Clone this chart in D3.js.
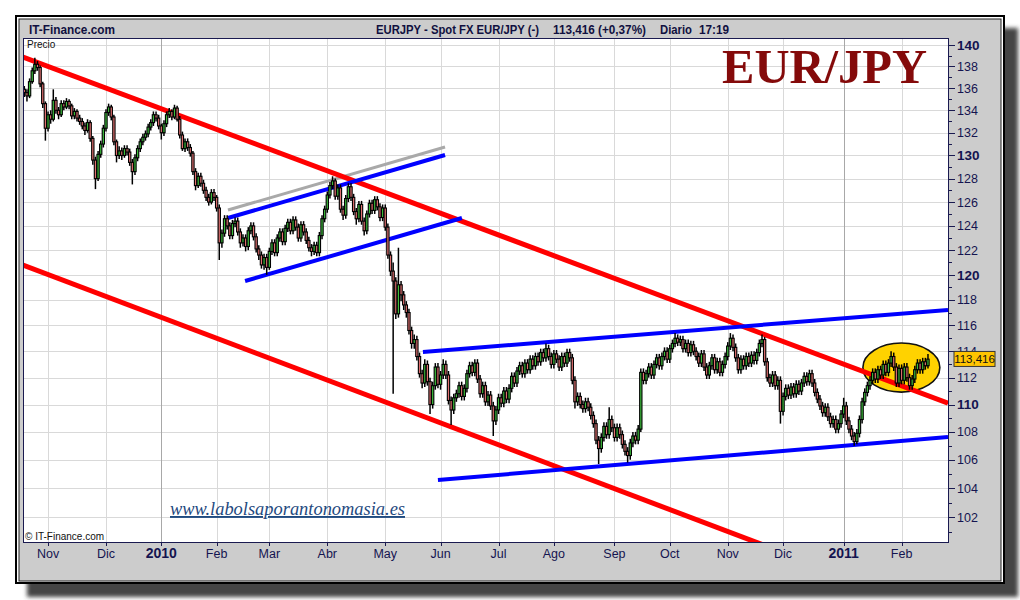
<!DOCTYPE html>
<html><head><meta charset="utf-8">
<script src="https://cdn.jsdelivr.net/npm/d3@7"></script>
<style>body{margin:0;background:#fff}svg{display:block}</style>
</head><body>
<svg id="c" width="1020" height="600"></svg>
<script>
// ---- Data (daily EUR/JPY candles, index = trading day from 20 Oct 2009) ----
const opens=[135.9,135.6,135.3,136.6,137.6,138.2,137.9,136.4,134.6,132.4,
133.6,133.2,134.9,134.0,133.6,134.6,134.3,134.8,134.4,133.5,
133.9,133.3,133.0,132.6,132.2,132.9,131.5,129.6,128.0,130.1,
131.0,132.4,133.8,134.3,133.4,131.2,130.0,130.4,130.0,130.6,
130.3,129.4,128.6,129.8,130.6,131.2,131.6,131.9,132.5,132.9,
133.6,133.3,132.6,132.0,132.8,133.6,133.9,133.4,134.2,133.2,
131.8,130.6,131.2,130.7,130.2,128.6,127.4,128.2,127.6,127.0,
126.4,126.0,126.8,126.4,125.5,122.6,123.4,124.6,124.0,123.2,
124.2,124.4,123.5,122.6,123.0,122.3,123.6,124.0,123.1,122.1,
121.6,120.8,121.4,120.6,121.9,122.6,121.8,123.0,123.5,122.7,
123.8,124.3,123.6,124.5,123.9,123.0,124.1,123.5,122.8,122.2,
121.9,122.4,121.8,123.2,124.6,125.4,126.6,127.4,127.8,126.5,
127.2,125.4,124.9,126.3,127.3,126.4,125.2,124.6,125.8,124.4,
123.6,125.0,125.9,125.3,126.2,125.6,124.7,125.5,123.9,121.6,
120.3,119.5,116.9,119.2,118.4,117.6,117.0,115.6,114.6,114.9,
113.6,112.3,111.6,113.0,111.7,110.0,111.4,112.8,111.5,112.2,
113.0,112.2,110.3,109.6,110.5,110.8,111.4,110.6,111.2,112.3,
112.9,112.4,113.1,111.9,110.8,111.4,110.2,110.7,109.9,108.8,
109.6,110.5,110.1,111.0,110.4,111.2,112.1,111.6,112.5,112.9,
112.3,113.1,112.6,113.4,112.9,113.6,113.2,113.9,113.5,114.2,
113.6,113.0,113.8,113.4,112.8,113.6,113.1,113.9,113.5,111.8,
110.2,110.6,110.0,109.7,110.2,109.8,109.2,108.6,107.4,106.8,
107.6,108.4,107.8,108.9,108.3,107.6,108.3,107.8,107.1,106.6,
106.3,107.2,107.7,107.4,108.2,112.4,111.8,112.3,112.8,112.2,
113.0,113.5,112.9,113.6,114.0,113.4,114.2,114.6,115.0,114.7,
114.9,114.2,114.6,113.9,114.5,114.0,113.6,113.1,113.8,112.8,
112.2,112.9,113.5,112.6,113.2,112.4,113.0,113.6,114.4,115.0,
114.3,113.5,112.6,113.4,112.9,113.6,113.1,113.7,113.3,113.9,
114.6,114.9,113.2,112.0,111.6,112.2,111.4,111.8,109.5,110.6,
111.2,110.7,111.3,110.8,111.5,111.0,111.6,112.1,111.7,112.3,
111.6,110.9,110.4,109.9,109.4,109.8,109.1,108.6,108.9,108.2,
108.6,109.3,109.9,108.8,108.2,107.7,107.3,107.9,108.9,110.2,
110.9,111.4,111.8,112.4,111.9,112.6,112.2,113.0,112.4,113.1,
113.6,112.8,111.6,112.7,111.8,112.8,112.0,111.4,111.9,112.6,
113.1,112.6,113.2,112.9];
const closes=[135.6,135.3,136.6,137.6,138.2,137.9,136.4,134.6,132.4,133.6,
133.2,134.9,134.0,133.6,134.6,134.3,134.8,134.4,133.5,133.9,
133.3,133.0,132.6,132.2,132.9,131.5,129.6,128.0,130.1,131.0,
132.4,133.8,134.3,133.4,131.2,130.0,130.4,130.0,130.6,130.3,
129.4,128.6,129.8,130.6,131.2,131.6,131.9,132.5,132.9,133.6,
133.3,132.6,132.0,132.8,133.6,133.9,133.4,134.2,133.2,131.8,
130.6,131.2,130.7,130.2,128.6,127.4,128.2,127.6,127.0,126.4,
126.0,126.8,126.4,125.5,122.6,123.4,124.6,124.0,123.2,124.2,
124.4,123.5,122.6,123.0,122.3,123.6,124.0,123.1,122.1,121.6,
120.8,121.4,120.6,121.9,122.6,121.8,123.0,123.5,122.7,123.8,
124.3,123.6,124.5,123.9,123.0,124.1,123.5,122.8,122.2,121.9,
122.4,121.8,123.2,124.6,125.4,126.6,127.4,127.8,126.5,127.2,
125.4,124.9,126.3,127.3,126.4,125.2,124.6,125.8,124.4,123.6,
125.0,125.9,125.3,126.2,125.6,124.7,125.5,123.9,121.6,120.3,
119.5,116.9,119.2,118.4,117.6,117.0,115.6,114.6,114.9,113.6,
112.3,111.6,113.0,111.7,110.0,111.4,112.8,111.5,112.2,113.0,
112.2,110.3,109.6,110.5,110.8,111.4,110.6,111.2,112.3,112.9,
112.4,113.1,111.9,110.8,111.4,110.2,110.7,109.9,108.8,109.6,
110.5,110.1,111.0,110.4,111.2,112.1,111.6,112.5,112.9,112.3,
113.1,112.6,113.4,112.9,113.6,113.2,113.9,113.5,114.2,113.6,
113.0,113.8,113.4,112.8,113.6,113.1,113.9,113.5,111.8,110.2,
110.6,110.0,109.7,110.2,109.8,109.2,108.6,107.4,106.8,107.6,
108.4,107.8,108.9,108.3,107.6,108.3,107.8,107.1,106.6,106.3,
107.2,107.7,107.4,108.2,112.4,111.8,112.3,112.8,112.2,113.0,
113.5,112.9,113.6,114.0,113.4,114.2,114.6,115.0,114.7,114.9,
114.2,114.6,113.9,114.5,114.0,113.6,113.1,113.8,112.8,112.2,
112.9,113.5,112.6,113.2,112.4,113.0,113.6,114.4,115.0,114.3,
113.5,112.6,113.4,112.9,113.6,113.1,113.7,113.3,113.9,114.6,
114.9,113.2,112.0,111.6,112.2,111.4,111.8,109.5,110.6,111.2,
110.7,111.3,110.8,111.5,111.0,111.6,112.1,111.7,112.3,111.6,
110.9,110.4,109.9,109.4,109.8,109.1,108.6,108.9,108.2,108.6,
109.3,109.9,108.8,108.2,107.7,107.3,107.9,108.9,110.2,110.9,
111.4,111.8,112.4,111.9,112.6,112.2,113.0,112.4,113.1,113.6,
112.8,111.6,112.7,111.8,112.8,112.0,111.4,111.9,112.6,113.1,
112.6,113.2,112.9,113.4];
const highs=[136.2,135.9,136.9,137.9,138.8,138.5,138.1,136.6,134.8,133.9,
134.0,135.9,135.2,134.3,134.9,134.9,135.1,135.0,134.6,134.2,
134.1,133.6,133.3,132.9,133.2,133.1,131.7,129.9,130.4,131.3,
132.7,134.1,134.6,134.5,133.6,131.4,130.8,130.7,130.9,130.9,
130.6,129.7,130.1,130.9,131.5,131.9,132.2,132.8,133.2,133.9,
133.9,133.6,132.8,133.1,133.9,134.2,134.1,134.5,134.4,133.5,
132.1,131.5,131.5,131.0,130.4,128.9,128.5,128.5,127.9,127.3,
126.7,127.1,127.1,126.6,125.8,123.7,124.9,124.9,124.3,124.5,
124.7,124.7,123.8,123.3,123.3,123.9,124.3,124.3,123.4,122.4,
121.9,121.7,121.7,122.2,122.9,122.9,123.3,123.8,123.8,124.1,
124.6,124.6,124.8,124.8,124.2,124.4,124.4,123.8,123.1,122.5,
122.7,122.7,123.5,124.9,125.7,126.9,127.7,128.2,128.0,127.5,
127.5,125.7,126.6,127.6,127.6,126.7,125.5,126.1,126.1,124.7,
125.3,126.2,126.2,126.5,126.5,125.9,125.8,125.8,124.2,121.9,
121.0,119.8,122.2,119.5,118.7,117.9,117.3,115.9,115.3,115.2,
113.9,112.6,113.4,113.3,112.0,111.7,113.1,113.1,112.5,113.4,
113.3,112.5,110.6,110.8,111.1,111.7,111.7,111.5,112.6,113.2,
113.2,113.4,113.4,112.2,111.7,111.7,111.0,111.0,110.2,109.9,
110.8,110.8,111.3,111.3,111.5,112.4,112.4,112.8,113.2,113.2,
113.4,113.4,113.7,113.7,113.9,113.9,114.2,114.2,114.6,114.5,
113.9,114.1,114.1,113.7,113.9,113.9,114.2,114.2,113.8,112.1,
110.9,110.9,110.3,110.5,110.5,110.1,109.5,108.9,107.7,107.9,
108.7,108.7,109.8,109.2,108.6,108.6,108.6,108.1,107.4,106.9,
107.5,108.0,108.0,108.5,112.7,112.7,112.6,113.1,113.1,113.3,
113.8,113.8,113.9,114.3,114.3,114.5,114.9,115.4,115.3,115.2,
115.2,114.9,114.9,114.8,114.8,114.3,113.9,114.1,114.1,113.1,
113.2,113.8,113.8,113.5,113.5,113.3,113.9,114.7,115.4,115.3,
114.6,113.8,113.7,113.7,113.9,113.9,114.0,114.0,114.2,114.9,
115.3,115.1,113.5,112.3,112.5,112.5,112.1,112.1,110.9,111.5,
111.5,111.6,111.6,111.8,111.8,111.9,112.4,112.4,112.6,112.6,
111.9,111.2,110.7,110.2,110.1,110.1,109.4,109.2,109.2,108.9,
109.6,110.5,110.2,109.1,108.5,108.0,108.2,109.2,110.5,111.2,
111.7,112.1,112.7,112.7,112.9,112.9,113.3,113.3,113.4,114.0,
113.9,113.1,113.0,113.0,113.1,113.1,112.3,112.2,112.9,113.4,
113.4,113.5,113.5,113.8];
const lows=[135.2,134.8,135.1,136.4,137.3,137.6,136.1,134.2,131.3,132.1,
132.8,133.0,133.7,133.2,133.4,134.0,134.1,134.1,133.2,133.2,
133.0,132.7,132.3,131.8,132.0,131.2,129.2,127.1,127.8,129.8,
130.7,132.1,133.5,133.1,130.9,129.4,129.7,129.6,129.8,130.0,
129.1,127.5,128.3,129.5,130.3,130.9,131.3,131.6,132.2,132.6,
133.0,132.3,131.4,131.7,132.5,133.3,133.1,133.2,133.0,131.5,
130.4,130.3,130.4,129.9,128.3,127.0,127.2,127.3,126.7,126.1,
125.7,125.8,126.1,125.2,121.2,122.2,123.1,123.7,122.9,122.9,
123.9,123.2,122.2,122.3,121.9,122.0,123.3,122.8,121.8,121.2,
120.5,120.4,120.0,120.4,121.6,121.5,121.5,122.7,122.4,122.4,
123.5,123.3,123.3,123.6,122.7,122.7,123.2,122.5,121.9,121.5,
121.6,121.5,121.5,122.9,124.3,125.1,126.3,127.1,126.2,126.2,
125.1,124.5,124.6,126.0,126.1,124.9,124.1,124.3,124.1,123.2,
123.3,124.7,125.0,125.0,125.3,124.4,124.4,123.6,121.3,119.9,
110.8,116.5,116.6,117.9,117.2,116.6,115.3,114.2,114.2,113.3,
112.0,111.2,111.3,111.4,109.3,109.7,111.1,111.2,111.1,111.9,
111.9,110.0,108.5,109.3,110.2,110.5,110.3,110.3,110.9,112.0,
112.1,112.1,111.6,110.5,110.5,109.9,109.9,109.6,107.7,108.5,
109.3,109.8,109.8,110.1,110.1,110.9,111.3,111.3,112.2,112.0,
112.0,112.3,112.3,112.6,112.6,112.9,112.9,113.2,113.2,113.3,
112.7,112.7,113.1,112.5,112.5,112.8,112.8,113.2,111.5,109.7,
109.9,109.7,109.4,109.4,109.5,108.9,108.3,107.1,105.7,106.5,
107.3,107.5,107.5,108.0,107.3,107.3,107.5,106.8,106.3,105.8,
106.0,106.9,107.1,107.1,108.0,111.5,111.5,112.0,111.9,111.9,
112.7,112.6,112.6,113.3,113.1,113.1,113.9,114.3,114.4,114.4,
113.9,113.9,113.6,113.6,113.7,113.3,112.8,112.8,112.5,111.9,
111.9,112.6,112.3,112.3,112.1,112.1,112.7,113.3,114.1,114.0,
113.2,112.3,112.3,112.6,112.6,112.8,112.8,113.0,113.0,113.6,
114.3,112.9,111.7,111.3,111.3,111.1,111.1,108.6,109.2,110.3,
110.4,110.4,110.5,110.5,110.7,110.7,111.3,111.4,111.4,111.3,
110.6,110.1,109.6,109.1,109.1,108.8,108.3,108.3,107.9,107.9,
108.3,109.0,108.5,107.9,107.4,107.0,107.1,107.6,108.6,109.9,
110.6,111.1,111.5,111.6,111.6,111.9,111.9,112.1,112.1,112.8,
112.5,111.3,111.3,111.5,111.5,111.7,111.1,111.1,111.6,112.3,
112.3,112.3,112.6,112.7];

// x-axis month labels and the trading-day index where each month starts
const monthLabels=["Nov","Dic","2010","Feb","Mar","Abr","May","Jun","Jul","Ago","Sep","Oct","Nov","Dic","2011","Feb"];
const monthIndex=[9,31,52,73,93,115,137,158,180,201,224,245,267,288,311,333];
const yearLabels=["2010","2011"];
// y-axis tick labels
const priceTicks=[102,104,106,108,110,112,114,116,118,120,122,124,126,128,130,132,134,136,138,140];
const boldTicks=[110,120,130,140];
// trend lines: [trading-day index, price] end points
const redLines=[[[-0.5,138.88],[350.6,110.1]],[[-0.5,120.79],[290,99.48]]];
const blueLines=[[[77.3,124.66],[159.7,130.04]],[[83.8,119.5],[166.1,124.66]],[[151.3,113.95],[350.6,117.2]],[[157.0,104.57],[350.6,107.63]]];
const grayLines=[[[77.3,125.33],[159.7,130.74]]];
// highlighted zone (index range, price range)
const zoneIdx=[318.3,347.5];
const zonePrice=[110.92,114.63];
const lastPrice=113.416;
const lastLabel="113,416";

// ---- Drawing ----
const svg=d3.select("#c");
const defs=svg.append("defs");
defs.append("filter").attr("id","blur").append("feGaussianBlur").attr("stdDeviation",2);
const P={l:23,r:948,t:38,b:542};
defs.append("clipPath").attr("id","clip").append("rect").attr("x",P.l).attr("y",P.t).attr("width",P.r-P.l).attr("height",P.b-P.t);

// frame + shadow
svg.append("rect").attr("x",27).attr("y",28).attr("width",991).attr("height",569).attr("fill","#454545").attr("filter","url(#blur)");
svg.append("rect").attr("x",15).attr("y",15).attr("width",990).attr("height",569).attr("fill","#000");
svg.append("rect").attr("x",17).attr("y",17).attr("width",986).attr("height",565).attr("fill","#fff");
svg.append("rect").attr("x",18.5).attr("y",18.5).attr("width",983).attr("height",563).attr("fill","#222");
svg.append("rect").attr("x",19.5).attr("y",19.5).attr("width",981).attr("height",561).attr("fill","#cccccc");

const x=d3.scaleLinear().domain([-0.5,350.6]).range([P.l,P.r]);
const y=d3.scaleLog().domain([100.31,140.66]).range([P.b,P.t]);

svg.append("rect").attr("x",P.l).attr("y",P.t).attr("width",P.r-P.l).attr("height",P.b-P.t).attr("fill","#fff");

const grid=svg.append("g").attr("shape-rendering","crispEdges");
grid.selectAll("line.h").data(priceTicks).join("line").attr("class","h")
  .attr("x1",P.l).attr("x2",P.r).attr("y1",d=>Math.round(y(d))+0.5).attr("y2",d=>Math.round(y(d))+0.5)
  .attr("stroke","#d9d9d9").attr("stroke-width",1);
grid.selectAll("line.v").data(monthLabels.map((m,i)=>({m,i:monthIndex[i]}))).join("line").attr("class","v")
  .attr("x1",d=>Math.round(x(d.i))+0.5).attr("x2",d=>Math.round(x(d.i))+0.5).attr("y1",P.t).attr("y2",P.b)
  .attr("stroke",d=>yearLabels.includes(d.m)?"#a8a8a8":"#d9d9d9").attr("stroke-width",d=>yearLabels.includes(d.m)?1.3:1);

const plot=svg.append("g").attr("clip-path","url(#clip)");
// zone ellipse
plot.append("ellipse")
  .attr("cx",(x(zoneIdx[0])+x(zoneIdx[1]))/2).attr("cy",(y(zonePrice[0])+y(zonePrice[1]))/2)
  .attr("rx",(x(zoneIdx[1])-x(zoneIdx[0]))/2).attr("ry",(y(zonePrice[0])-y(zonePrice[1]))/2)
  .attr("fill","#FFD200").attr("stroke","#111").attr("stroke-width",1.6);

const seg=(arr,col,w)=>plot.selectAll(null).data(arr).join("line")
  .attr("x1",d=>x(d[0][0])).attr("y1",d=>y(d[0][1])).attr("x2",d=>x(d[1][0])).attr("y2",d=>y(d[1][1]))
  .attr("stroke",col).attr("stroke-width",w);
seg(grayLines,"#a9a9a9",3);
seg(redLines,"#ff0000",5);
seg(blueLines,"#0000ff",4);

// candles
const bw=2.3;
const cd=closes.map((c,i)=>({i,o:opens[i],h:highs[i],l:lows[i],c}));
const cg=plot.append("g");
cg.selectAll("line").data(cd).join("line")
  .attr("x1",d=>x(d.i)).attr("x2",d=>x(d.i)).attr("y1",d=>y(d.h)).attr("y2",d=>y(d.l))
  .attr("stroke","#000").attr("stroke-width",1.5);
cg.selectAll("rect").data(cd).join("rect")
  .attr("x",d=>x(d.i)-bw/2).attr("width",bw)
  .attr("y",d=>y(Math.max(d.o,d.c))).attr("height",d=>Math.max(0.8,Math.abs(y(d.o)-y(d.c))))
  .attr("fill",d=>d.c>=d.o?"#3cbc3c":"#e07070").attr("stroke","#000").attr("stroke-width",1.1);

// plot border
svg.append("rect").attr("x",P.l+0.5).attr("y",P.t+0.5).attr("width",P.r-P.l).attr("height",P.b-P.t)
  .attr("fill","none").attr("stroke","#1a1a50").attr("stroke-width",1).attr("shape-rendering","crispEdges");

// title
svg.append("text").attr("x",722).attr("y",83).attr("font-family","'Liberation Serif','DejaVu Serif',serif")
  .attr("font-weight","bold").attr("font-size",48).attr("fill","#840a0a").attr("textLength",205).attr("lengthAdjust","spacingAndGlyphs").text("EUR/JPY");

// watermark
svg.append("text").attr("x",170).attr("y",515).attr("font-family","'Liberation Serif',serif").attr("font-style","italic")
  .attr("font-size",19).attr("fill","#1f4a80").attr("text-decoration","underline").attr("textLength",235).attr("lengthAdjust","spacingAndGlyphs")
  .text("www.labolsaporantonomasia.es");

// small labels
svg.append("text").attr("x",27).attr("y",48).attr("font-family","'Liberation Sans',Arial,sans-serif").attr("font-size",10).attr("fill","#111").text("Precio");
svg.append("text").attr("x",25).attr("y",540).attr("font-family","'Liberation Sans',Arial,sans-serif").attr("font-size",10).attr("fill","#111").text("© IT-Finance.com");

// header
const hf="'Liberation Sans',Arial,sans-serif";
const head=(t,x0,w,fs)=>svg.append("text").attr("x",x0).attr("y",34).attr("font-family",hf).attr("font-weight","bold")
  .attr("font-size",fs).attr("fill","#101040").attr("textLength",w).attr("lengthAdjust","spacingAndGlyphs").text(t);
head("IT-Finance.com",29,86,12.5);
head("EURJPY - Spot FX EUR/JPY (-)",376,163,12);
head("113,416 (+0,37%)",553,93,12);
head("Diario",660,32,12);
head("17:19",699,30,12);

// y axis
const ya=svg.append("g").attr("shape-rendering","crispEdges");
ya.append("line").attr("x1",P.r+0.5).attr("x2",P.r+0.5).attr("y1",P.t).attr("y2",P.b+1).attr("stroke","#1a1a50").attr("stroke-width",1.5);
const minor=d3.range(101,141);
ya.selectAll("line.mn").data(minor).join("line").attr("class","mn")
  .attr("x1",P.r).attr("x2",d=>d%2===0?P.r+7:P.r+4).attr("y1",d=>Math.round(y(d))+0.5).attr("y2",d=>Math.round(y(d))+0.5)
  .attr("stroke","#1a1a50").attr("stroke-width",1);
svg.append("g").selectAll("text").data(priceTicks).join("text")
  .attr("x",957).attr("y",d=>y(d)).attr("dy","0.36em")
  .attr("font-family",hf).attr("font-size",d=>boldTicks.includes(d)?13.5:12.5)
  .attr("font-weight",d=>boldTicks.includes(d)?"bold":"normal").attr("fill","#141450").text(d=>d);

// last price box
svg.append("rect").attr("x",954).attr("y",y(lastPrice)-7.5).attr("width",41).attr("height",15).attr("fill","#FFC400").attr("stroke","#333").attr("stroke-width",1);
svg.append("text").attr("x",974.5).attr("y",y(lastPrice)).attr("dy","0.36em").attr("text-anchor","middle").attr("font-family",hf).attr("font-size",11.5).attr("fill","#111").text(lastLabel);

// x axis
const xa=svg.append("g");
xa.selectAll("line").data(monthIndex).join("line").attr("x1",d=>Math.round(x(d))+0.5).attr("x2",d=>Math.round(x(d))+0.5)
  .attr("y1",P.b).attr("y2",P.b+4).attr("stroke","#1a1a50").attr("stroke-width",1);
xa.selectAll("text").data(monthLabels.map((m,i)=>({m,i:monthIndex[i]}))).join("text")
  .attr("x",d=>x(d.i)).attr("y",558).attr("text-anchor","middle").attr("font-family",hf)
  .attr("font-size",d=>yearLabels.includes(d.m)?14:12.5).attr("font-weight",d=>yearLabels.includes(d.m)?"bold":"normal")
  .attr("fill","#141450").text(d=>d.m);
</script>
</body></html>
